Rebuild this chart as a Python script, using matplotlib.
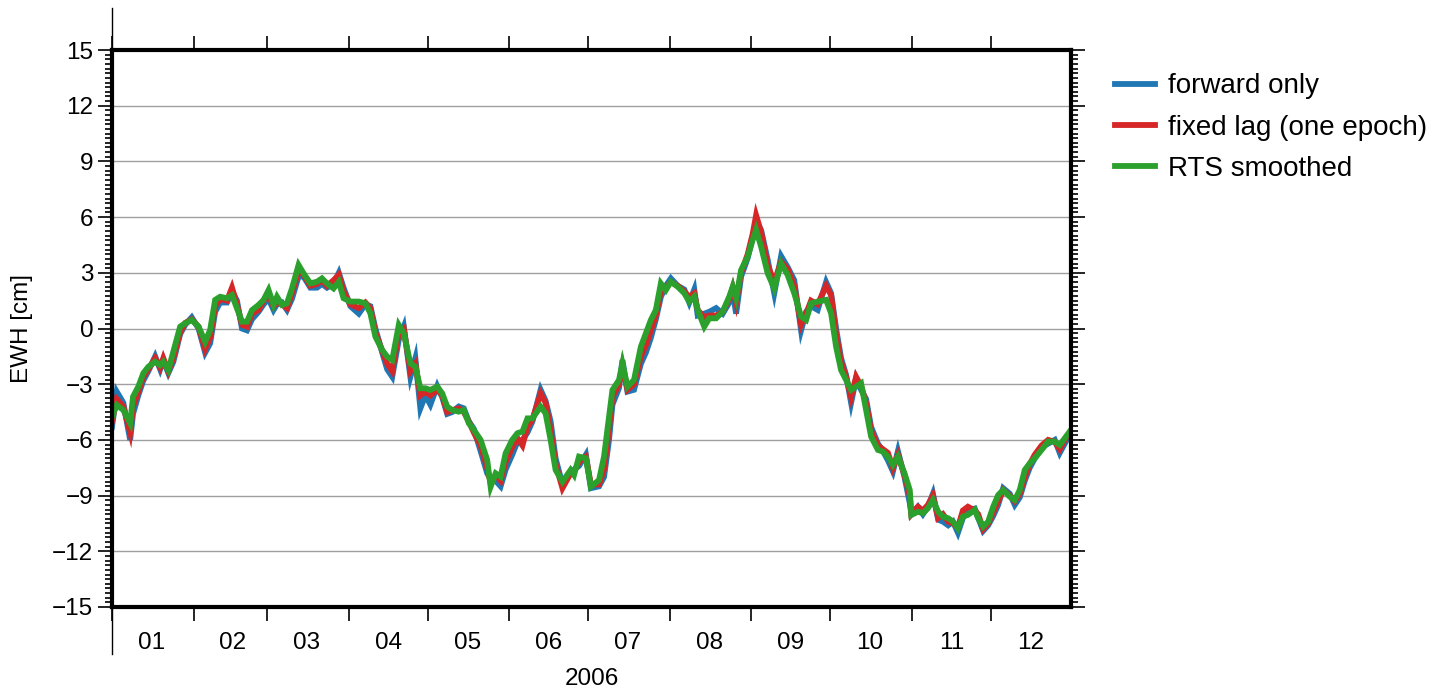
import pandas as pd
import matplotlib
matplotlib.use("Agg")
import matplotlib.pyplot as plt
import matplotlib.dates as mdates
from matplotlib.ticker import MultipleLocator

plt.rcParams['font.family'] = ['Liberation Sans', 'DejaVu Sans']

# DATA (days since 2006-01-01, EWH in cm)
days = [0, 1.8, 4.3, 6.9, 8, 10, 11.9, 13.8, 16.4, 18.3, 19.5, 21.4, 23.3, 25.9, 27.8,
        30.3, 32.9, 35.4, 37.3, 39.2, 41.1, 43.7, 45.6, 47.5, 49.4, 51.3, 53.2, 55.7, 57.6,
        59.5, 61.4, 62.7, 64.6, 66.5, 68.4, 70.9, 72.8, 75.4, 77.9, 79.8, 81.7, 84.2, 86.2,
        88.0, 90.6, 93.8, 96.3, 98.2, 100.1, 102.7, 104.6, 106.5, 109, 110.9, 113.4, 115.3,
        117.2, 119.1, 121.0, 123.6, 125.5, 127.4, 129.3, 131.8, 133.7, 135.6, 137.5, 140.1,
        142.6, 143.9, 145.8, 147.7, 149.6, 152.1, 154.1, 156, 157.9, 159.8, 162.9, 164.8,
        166.7, 168.6, 171.2, 174.3, 175.6, 177.5, 180.1, 182, 185.1, 187, 188.9, 190.2,
        192.7, 194, 195.9, 198.4, 201, 202.9, 204.8, 206.7, 208.6, 210.5, 212.4, 215,
        217.5, 219.4, 221.3, 222.6, 225.1, 227, 229.6, 232.1, 234.6, 235.9, 237.2, 239.1,
        241.6, 243.5, 244.8, 246.7, 249.2, 251.7, 254.3, 256.8, 259.3, 261.9, 263.8, 265.7,
        268.2, 271.4, 273.3, 275.2, 277.1, 279, 280.9, 282.8, 284.7, 286.6, 288.5, 291.1,
        293, 294.9, 296.8, 298.7, 301.2, 303.2, 303.8, 306.3, 308.2, 310.1, 312, 314,
        315.8, 317.8, 319.6, 321.5, 323.4, 325.3, 327.9, 329.2, 331.1, 333, 334.9, 336.8,
        338.7, 341.2, 343.1, 345, 346.9, 348.8, 350.7, 353.3, 355.8, 358.3, 360.2, 362.1, 364]

rts_smoothed = [-4.75, -4.12, -4.39, -5.1, -3.67, -3.13, -2.41, -2.06, -1.79, -1.97, -1.79, -2.24, -1.25, 0.10, 0.28,
                0.46, 0.10, -0.71, -0.08, 1.54, 1.71, 1.63, 1.80, 1.08, 0.37, 0.37, 0.99, 1.27, 1.54,
                2.07, 1.27, 1.71, 1.27, 1.36, 2.16, 3.42, 2.97, 2.43, 2.52, 2.70, 2.43, 2.16, 2.52,
                1.63, 1.45, 1.45, 1.36, 0.82, -0.44, -1.16, -1.52, -1.70, 0.19, -0.26, -1.88, -2.06,
                -3.22, -3.22, -3.31, -3.13, -3.49, -4.21, -4.39, -4.48, -4.39, -5.1, -5.46, -6.0,
                -7.08, -8.52, -7.8, -7.98, -6.72, -6.0, -5.64, -5.55, -4.84, -4.84, -4.21, -4.57,
                -6.0, -7.62, -8.25, -7.62, -7.89, -6.9, -6.99, -8.52, -8.16, -6.9, -4.75, -3.31,
                -2.77, -1.88, -3.13, -2.77, -0.98, -0.26, 0.46, 1.0, 2.43, 2.07, 2.52, 2.25,
                1.90, 1.45, 1.72, 1.0, 0.10, 0.55, 0.55, 0.91, 1.72, 2.25, 1.63, 3.15,
                3.87, 4.77, 5.31, 4.41, 2.97, 2.16, 3.51, 2.88, 1.90, 0.64, 0.46, 1.36,
                1.45, 1.54, 0.82, -0.98, -2.24, -2.77, -3.31, -3.13, -2.95, -4.39, -5.82, -6.54,
                -6.63, -6.9, -7.35, -6.9, -7.8, -8.70, -10.04, -9.87, -9.95, -9.68, -9.24, -9.87,
                -10.13, -10.22, -10.4, -10.76, -10.13, -10.04, -9.77, -10.22, -10.67, -10.4, -9.6, -8.97,
                -8.70, -9.06, -9.24, -8.70, -7.62, -7.26, -6.99, -6.54, -6.09, -6.09, -6.27, -5.91, -5.55]

fixed_lag = [-5.0, -3.8, -4.2, -5.6, -4.2, -3.4, -2.6, -2.2, -1.6, -2.1, -1.6, -2.3, -1.6, -0.2, 0.3,
             0.5, 0.1, -1.1, -0.5, 1.2, 1.6, 1.5, 2.2, 1.3, 0.2, 0.1, 0.8, 1.0, 1.5,
             1.8, 1.2, 1.4, 1.3, 1.1, 1.9, 3.1, 2.9, 2.3, 2.4, 2.6, 2.3, 2.6, 2.9,
             2.0, 1.3, 1.1, 1.4, 1.1, -0.2, -1.2, -1.9, -2.3, -0.2, 0.0, -2.3, -1.9,
             -3.6, -3.4, -3.6, -3.3, -3.6, -4.5, -4.4, -4.3, -4.5, -5.0, -5.6, -6.3,
             -7.5, -8.3, -7.9, -8.2, -7.2, -6.4, -5.9, -6.3, -5.3, -4.9, -3.5, -4.0,
             -5.5, -7.3, -8.6, -7.8, -7.7, -7.2, -6.9, -8.4, -8.4, -7.6, -5.4, -3.7,
             -3.0, -2.0, -3.3, -3.0, -1.5, -0.9, -0.1, 0.7, 2.0, 2.2, 2.5, 2.3,
             2.0, 1.7, 1.9, 1.0, 0.6, 0.7, 0.7, 0.9, 1.6, 2.2, 1.4, 3.0,
             4.0, 5.1, 6.1, 5.2, 3.4, 2.5, 3.6, 3.2, 2.3, 0.2, 0.8, 1.5,
             1.3, 2.3, 1.8, -0.3, -1.8, -2.6, -3.7, -2.6, -3.1, -4.0, -5.5, -6.3,
             -6.5, -6.7, -7.5, -6.8, -7.9, -9.0, -10.0, -9.6, -9.8, -9.5, -9.0, -10.2,
             -10.0, -10.4, -10.5, -10.7, -9.8, -9.6, -9.8, -10.0, -10.8, -10.5, -9.9, -9.3,
             -8.7, -9.0, -9.3, -8.9, -8.0, -7.3, -6.8, -6.3, -6.0, -6.1, -6.5, -6.0, -5.6]

forward_only = [-5.3, -3.4, -4.0, -6.0, -4.6, -3.6, -2.8, -2.3, -1.5, -2.2, -1.7, -2.4, -1.8, -0.3, 0.2,
                0.6, 0.0, -1.3, -0.8, 0.9, 1.4, 1.4, 2.0, 1.5, 0.0, -0.1, 0.5, 0.9, 1.3,
                1.6, 1.0, 1.3, 1.4, 1.0, 1.6, 2.8, 2.8, 2.2, 2.2, 2.4, 2.2, 2.4, 3.0,
                2.2, 1.2, 0.8, 1.3, 1.2, 0.0, -1.3, -2.2, -2.6, -0.6, 0.1, -2.6, -1.6,
                -4.3, -3.6, -4.1, -3.1, -3.7, -4.6, -4.5, -4.2, -4.3, -5.0, -5.4, -6.6,
                -7.8, -8.1, -8.2, -8.5, -7.6, -6.8, -6.1, -6.0, -5.6, -5.0, -3.3, -3.9,
                -5.0, -7.0, -8.4, -7.8, -7.6, -7.4, -6.8, -8.6, -8.5, -8.0, -6.0, -4.1,
                -3.2, -1.7, -3.4, -3.3, -1.9, -1.3, -0.5, 0.5, 1.7, 2.3, 2.7, 2.3,
                2.1, 1.4, 2.1, 0.7, 0.8, 0.9, 1.1, 0.8, 1.4, 2.0, 0.8, 2.8,
                3.8, 4.9, 5.8, 5.3, 3.7, 1.9, 3.9, 3.3, 2.6, -0.1, 0.9, 1.2,
                1.0, 2.5, 1.9, 0.0, -1.6, -2.5, -4.0, -2.7, -3.3, -3.8, -5.3, -6.2,
                -6.6, -7.1, -7.7, -6.6, -8.0, -9.4, -10.0, -9.6, -10.0, -9.6, -8.9, -10.3,
                -10.4, -10.6, -10.4, -11.0, -10.2, -9.8, -9.7, -10.2, -10.9, -10.6, -10.1, -9.5,
                -8.6, -8.9, -9.5, -9.1, -8.2, -7.5, -7.0, -6.4, -6.2, -6.0, -6.7, -6.2, -5.7]

labels = ['forward only', 'fixed lag (one epoch)', 'RTS smoothed']
colors = ['#1f77b4', '#d62728', '#2ca02c']

dates = pd.Timestamp('2006-01-01') + pd.to_timedelta(days, unit='D')
start = pd.Timestamp('2006-01-01')
end = pd.Timestamp('2006-12-31 12:00')

fig = plt.figure(figsize=(14.34, 6.9), dpi=100)
ax = fig.add_axes([0.0781, 0.1203, 0.6688, 0.8072])

for series, lab, col in zip([forward_only, fixed_lag, rts_smoothed], labels, colors):
    ax.plot(dates, series, color=col, lw=4.2, label=lab, solid_joinstyle='miter')

ax.set_xlim(start, end)
ax.set_ylim(-15, 15)

# y axis ticks
ax.yaxis.set_major_locator(MultipleLocator(3))
ax.yaxis.set_minor_locator(MultipleLocator(0.25))
ax.tick_params(axis='y', which='both', left=True, right=True, direction='out', width=1.2)
ax.tick_params(axis='y', which='major', length=10, labelsize=17.5)
ax.tick_params(axis='y', which='minor', length=5)
ax.grid(axis='y', which='major', color='#a0a0a0', lw=1.0)

# x axis: ticks at month boundaries, labels mid-month
ax.xaxis.set_major_locator(mdates.MonthLocator())
ax.xaxis.set_major_formatter(plt.NullFormatter())
ax.xaxis.set_minor_locator(mdates.MonthLocator(bymonthday=16))
ax.xaxis.set_minor_formatter(mdates.DateFormatter('%m'))
ax.tick_params(axis='x', which='major', top=True, bottom=True, direction='out', length=10, width=1.2)
ax.tick_params(axis='x', which='minor', length=0, labelsize=17.5, pad=18)

# year boundary marks
xform = ax.get_xaxis_transform()
ax.plot([start, start], [-0.085, 0], transform=xform, color='black', lw=1.0, clip_on=False)
ax.plot([start, start], [1, 1.075], transform=xform, color='black', lw=1.0, clip_on=False)

for sp in ax.spines.values():
    sp.set_linewidth(3)
    sp.set_zorder(5)

ax.set_ylabel('EWH [cm]', fontsize=17.5, labelpad=14)
ax.set_xlabel('2006', fontsize=17.5, labelpad=10)

ax.legend(loc='upper left', bbox_to_anchor=(1.046, 0.958), frameon=False, fontsize=20,
          handlelength=1.44, handletextpad=0.47, labelspacing=0.55, borderpad=0, borderaxespad=0)

fig.savefig('out.png', dpi=100)
